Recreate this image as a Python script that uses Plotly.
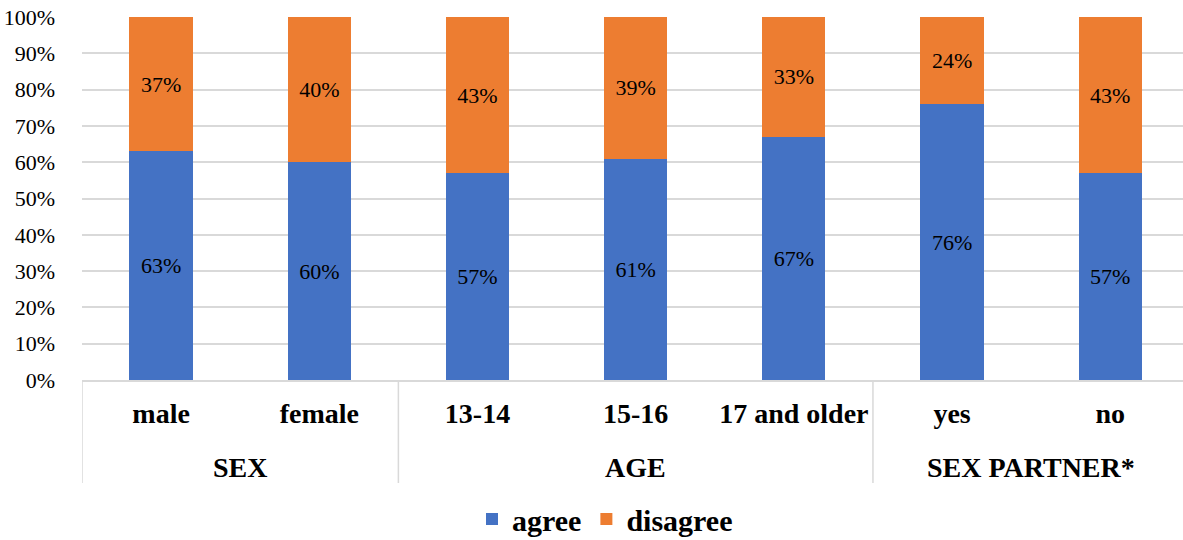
import plotly.graph_objects as go

# Grouping of the survey answers
groups = ["SEX", "AGE", "SEX PARTNER*"]
group_sizes = [2, 3, 2]
subgroups = ["male", "female", "13-14", "15-16", "17 and older", "yes", "no"]

# Share of respondents (%)
agree = [63, 60, 57, 61, 67, 76, 57]
disagree = [37, 40, 43, 39, 33, 24, 43]

y_ticks = [0, 10, 20, 30, 40, 50, 60, 70, 80, 90, 100]
y_tick_text = [f"{v}%" for v in y_ticks]

BLUE = "#4472C4"
ORANGE = "#ED7D31"
GRID = "#d9d9d9"
SERIF = "Liberation Serif, Times New Roman, serif"

PLOT_H = 540 - 17 - 160

fig = go.Figure()
for name, vals, color in [("agree", agree, BLUE), ("disagree", disagree, ORANGE)]:
    fig.add_trace(go.Bar(
        name=name,
        x=subgroups,
        y=vals,
        marker=dict(color=color, line=dict(width=0)),
        text=[f"{v}%" for v in vals],
        textposition="inside",
        insidetextanchor="middle",
        textangle=0,
        constraintext="none",
        textfont=dict(family=SERIF, size=22, color="#000000"),
    ))

# Group labels and separators beneath the category labels
start = 0
boundaries = [-0.5]
for g, n in zip(groups, group_sizes):
    center = start + (n - 1) / 2
    fig.add_annotation(
        x=center, xref="x",
        y=-(467 - 380) / PLOT_H, yref="paper",
        yanchor="middle", showarrow=False,
        text=f"<b>{g}</b>",
        font=dict(family=SERIF, size=28, color="#000000"),
    )
    start += n
    boundaries.append(start - 0.5)

for b in boundaries:
    fig.add_shape(
        type="line", xref="x", yref="paper",
        x0=b, x1=b, y0=0, y1=-(483 - 380) / PLOT_H,
        line=dict(color=GRID, width=1.5),
    )

fig.update_layout(
    barmode="stack",
    bargap=0.6,
    width=1183,
    height=540,
    margin=dict(l=82, r=0, t=17, b=160, autoexpand=False),
    plot_bgcolor="white",
    paper_bgcolor="white",
    showlegend=True,
    legend=dict(
        orientation="h",
        x=0.475, xanchor="center",
        y=-(519 - 380) / PLOT_H, yanchor="middle",
        font=dict(family=SERIF, size=30, color="#000000", weight="bold"),
        itemwidth=30,
        traceorder="normal",
    ),
)

fig.update_xaxes(
    type="category",
    range=[-0.5, 6.46],
    automargin=False,
    showgrid=False,
    showline=True,
    linecolor=GRID,
    linewidth=1.5,
    ticks="",
    ticklabelstandoff=8,
    tickfont=dict(family=SERIF, size=28, color="#000000", weight="bold"),
)

fig.update_yaxes(
    range=[0, 100],
    automargin=False,
    tickvals=y_ticks,
    ticktext=y_tick_text,
    showgrid=True,
    gridcolor=GRID,
    gridwidth=1.5,
    zeroline=False,
    showline=False,
    ticks="",
    ticklabelstandoff=26,
    tickfont=dict(family=SERIF, size=22, color="#000000"),
)

fig.write_html("out.html")
